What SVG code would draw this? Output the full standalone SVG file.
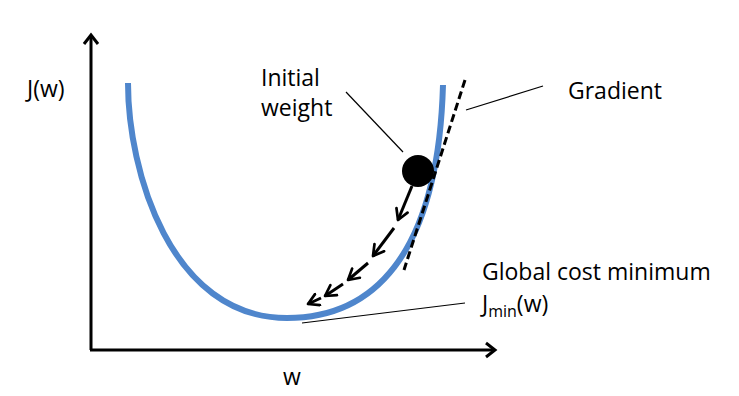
<svg xmlns="http://www.w3.org/2000/svg" width="739" height="396" viewBox="0 0 739 396">
  <defs>
    <style>
      .t { font-family: "Open Sans", "Liberation Sans", sans-serif; font-size: 23px; fill: #000; }
      .axis { stroke: #000; stroke-width: 3; fill: none; }
      .lead { stroke: #000; stroke-width: 1.2; fill: none; }
      .step { stroke: #000; stroke-width: 3; fill: none; marker-end: url(#vhead); }
    </style>
    <marker id="vhead" viewBox="0 0 10 10" refX="8" refY="5" markerWidth="5" markerHeight="5" orient="auto" markerUnits="strokeWidth">
      <path d="M1,1 L8,5 L1,9" fill="none" stroke="#000" stroke-width="1.8" stroke-linecap="round" stroke-linejoin="round"/>
    </marker>
  </defs>
  <rect width="739" height="396" fill="#fff"/>

  <g id="axes">
    <path class="axis" d="M91,350 L91,36"/>
    <path class="axis" d="M84,44 L91,35 L98,44" stroke-linejoin="miter"/>
    <path class="axis" d="M90,350 L494,350"/>
    <path class="axis" d="M486,343 L495,350 L486,357"/>
  </g>

  <g id="cost-curve">
    <path d="M128,83 C128,170 170,318 287,318 C370,318 438,260 443,85" fill="none" stroke="#4f86cc" stroke-width="6"/>
  </g>

  <g id="gradient-line">
    <path d="M465,80 L404,270" fill="none" stroke="#000" stroke-width="3" stroke-dasharray="8,4"/>
  </g>

  <g id="initial-weight-ball">
    <circle cx="418" cy="171" r="16" fill="#000"/>
  </g>

  <g id="connectors">
    <path class="step" d="M412,186 L398,220"/>
    <path class="step" d="M394,228 L373,256"/>
    <path class="step" d="M368,263 L348,280"/>
    <path class="step" d="M343,284 L325,296"/>
    <path class="step" d="M321,298 L308,304"/>
    <path class="lead" d="M346,92 L403,152"/>
    <path class="lead" d="M466,110 L543,86"/>
    <path class="lead" d="M302,323 L465,303"/>
  </g>

  <g id="label-jw"><text class="t" x="27" y="97" font-size="24">J(w)</text></g>
  <g id="label-initial"><text class="t" x="261" y="86">Initial</text><text class="t" x="261" y="116">weight</text></g>
  <g id="label-gradient"><text class="t" x="568" y="99">Gradient</text></g>
  <g id="label-min"><text class="t" x="482" y="280">Global cost minimum</text>
    <text class="t" x="482" y="312">J<tspan font-size="16" dy="5">min</tspan><tspan dy="-5">(w)</tspan></text></g>
  <g id="label-w"><text class="t" x="283" y="385">w</text></g>
</svg>
